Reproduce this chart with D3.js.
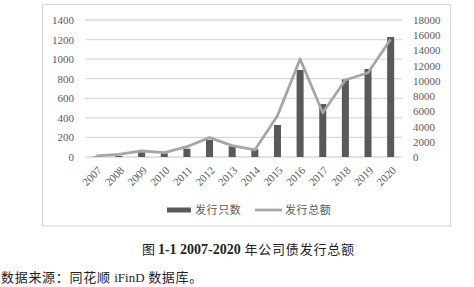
<!DOCTYPE html>
<meta charset="utf-8">
<style>
body { margin: 0; background: #fff; }
.tick text { font-family: "Liberation Serif", serif; font-size: 11px; fill: #595959; }
.axis path, .axis line { display: none; }
.grid line { stroke: #d9d9d9; stroke-width: 1.3px; }
.legend text { font-family: "Noto Sans CJK SC", sans-serif; font-size: 11px; fill: #595959; letter-spacing: 0.6px; }
</style>
<svg width="474" height="287"></svg>
<script src="https://d3js.org/d3.v7.min.js"></script>
<script>

var years = ["2007", "2008", "2009", "2010", "2011", "2012", "2013", "2014", "2015", "2016", "2017", "2018", "2019", "2020"];
var counts = [5, 10, 48, 38, 85, 174, 110, 79, 327, 889, 541, 793, 899, 1226];
var totals = [150, 350, 790, 570, 1350, 2540, 1500, 920, 5430, 12880, 5820, 10120, 11070, 15460];
var leftTicks = [0, 200, 400, 600, 800, 1000, 1200, 1400];
var rightTicks = [0, 2000, 4000, 6000, 8000, 10000, 12000, 14000, 16000, 18000];
var seriesNames = ["发行只数", "发行总额"];

var svg = d3.select("svg");

// chart frame
svg.append("rect")
    .attr("x", 42.5).attr("y", 4.5)
    .attr("width", 408).attr("height", 221.5)
    .attr("fill", "none")
    .attr("stroke", "#d9d9d9")
    .attr("stroke-width", 1.2);

var plotL = 85, plotR = 402, plotT = 20, plotB = 157;

var x = d3.scaleBand().domain(years).range([plotL, plotR]).paddingInner(0.69).paddingOuter(0.345),
    y = d3.scaleLinear().domain([0, 1400]).range([plotB, plotT]),
    y2 = d3.scaleLinear().domain([0, 18000]).range([plotB, plotT]);

// gridlines
svg.append("g").attr("class", "grid")
  .selectAll("line")
  .data(leftTicks)
  .enter().append("line")
    .attr("x1", plotL).attr("x2", plotR)
    .attr("y1", function(d) { return y(d); })
    .attr("y2", function(d) { return y(d); });

svg.append("g")
    .attr("class", "axis")
    .attr("transform", "translate(" + (plotL - 8) + ",0)")
    .call(d3.axisLeft(y).tickValues(leftTicks).tickFormat(d3.format("d")).tickSize(0).tickPadding(3));

svg.append("g")
    .attr("class", "axis")
    .attr("transform", "translate(" + (plotR + 8) + ",0)")
    .call(d3.axisRight(y2).tickValues(rightTicks).tickFormat(d3.format("d")).tickSize(0).tickPadding(3));

var xAxis = svg.append("g")
    .attr("class", "axis")
    .attr("transform", "translate(0," + plotB + ")")
    .call(d3.axisBottom(x).tickSize(0).tickPadding(0));

xAxis.selectAll("text")
    .attr("text-anchor", "end")
    .attr("dy", "0")
    .attr("transform", "translate(6,14) rotate(-45)");

// bars
svg.append("g")
  .selectAll("rect")
  .data(years)
  .enter().append("rect")
    .attr("x", function(d) { return x(d); })
    .attr("width", x.bandwidth())
    .attr("y", function(d, i) { return y(counts[i]); })
    .attr("height", function(d, i) { return plotB - y(counts[i]); })
    .attr("fill", "#595959");

// line
var line = d3.line()
    .x(function(d, i) { return x(years[i]) + x.bandwidth() / 2; })
    .y(function(d) { return y2(d); });

svg.append("path")
    .datum(totals)
    .attr("d", line)
    .attr("fill", "none")
    .attr("stroke", "#a6a6a6")
    .attr("stroke-width", 2.8)
    .attr("stroke-linejoin", "round");

// legend
var legend = svg.append("g").attr("class", "legend");
legend.append("rect")
    .attr("x", 167).attr("y", 207.5).attr("width", 24).attr("height", 5)
    .attr("fill", "#595959");
legend.append("text").attr("x", 195).attr("y", 214).text(seriesNames[0]);
legend.append("line")
    .attr("x1", 255).attr("x2", 282).attr("y1", 210).attr("y2", 210)
    .attr("stroke", "#a6a6a6").attr("stroke-width", 2.8);
legend.append("text").attr("x", 285).attr("y", 214).text(seriesNames[1]);

// caption
var cap = svg.append("text")
    .attr("x", 142).attr("y", 254)
    .style("font-size", "13px")
    .style("fill", "#222");
cap.append("tspan").style("font-family", "'Noto Sans CJK SC', sans-serif").text("图 ");
cap.append("tspan").style("font-family", "'Liberation Serif', serif").style("font-weight", "bold").style("font-size", "14px").text("1-1 2007-2020");
cap.append("tspan").style("font-family", "'Noto Sans CJK SC', sans-serif").style("letter-spacing", "0.8px").text(" 年公司债发行总额");

var src = svg.append("text")
    .attr("x", 1).attr("y", 282)
    .style("font-size", "13px")
    .style("fill", "#222");
src.append("tspan").style("font-family", "'Noto Sans CJK SC', sans-serif").style("letter-spacing", "0.7px").text("数据来源：同花顺 ");
src.append("tspan").style("font-family", "'Liberation Serif', serif").text("iFinD");
src.append("tspan").style("font-family", "'Noto Sans CJK SC', sans-serif").style("letter-spacing", "0.7px").text(" 数据库。");

</script>
